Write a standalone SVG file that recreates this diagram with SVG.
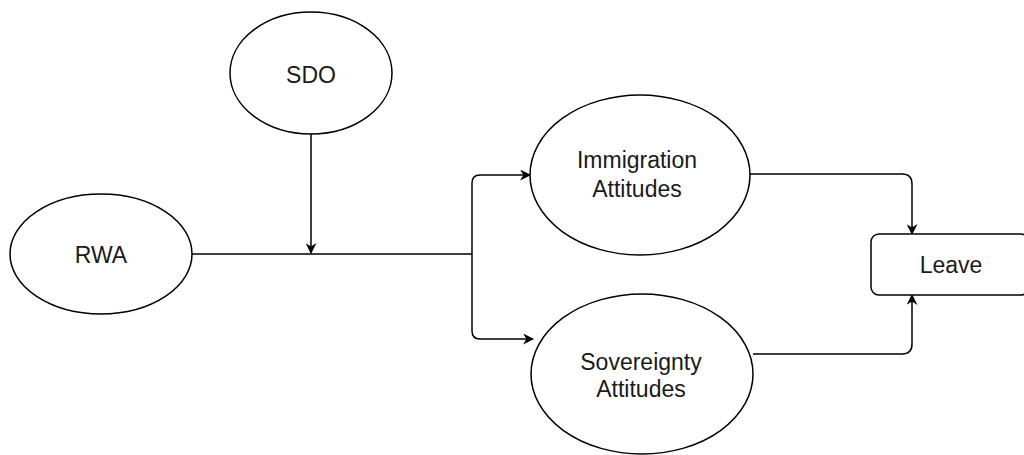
<svg xmlns="http://www.w3.org/2000/svg" width="1024" height="455" viewBox="0 0 1024 455">
<defs>
<style>
.node{fill:#fff;stroke:#000;stroke-width:1.5}
.lbl{font-family:"Liberation Sans",Arial,sans-serif;font-size:23px;fill:#1a1a1a;text-anchor:middle}
.edge{fill:none;stroke:#000;stroke-width:1.5}
</style>
<marker id="arr" viewBox="0 0 10 10" refX="9" refY="5" markerWidth="12" markerHeight="11" markerUnits="userSpaceOnUse" orient="auto">
<path d="M0,0 L10,5 L0,10 L3,5 Z" fill="#000"/>
</marker>
</defs>
<rect width="1024" height="455" fill="#fff"/>
<g id="connectors">
<path class="edge" d="M311,134 L311,253" marker-end="url(#arr)"/>
<path class="edge" d="M192,254 L472,254"/>
<path class="edge" d="M472,254 L472,183 Q472,175 480,175 L530,175" marker-end="url(#arr)"/>
<path class="edge" d="M472,254 L472,331 Q472,339 480,339 L533,339" marker-end="url(#arr)"/>
<path class="edge" d="M750,174 L902,174 Q912,174 912,184 L912,234" marker-end="url(#arr)"/>
<path class="edge" d="M753,354 L902,354 Q912,354 912,344 L912,295" marker-end="url(#arr)"/>
</g>
<g id="SDO">
<ellipse class="node" cx="311" cy="73" rx="81" ry="61"/>
<text class="lbl" x="311" y="83">SDO</text>
</g>
<g id="RWA">
<ellipse class="node" cx="101" cy="254" rx="91" ry="60"/>
<text class="lbl" x="101" y="263">RWA</text>
</g>
<g id="Immigration">
<ellipse class="node" cx="640" cy="175" rx="110" ry="80"/>
<text class="lbl" x="637" y="168">Immigration</text>
<text class="lbl" x="637" y="197">Attitudes</text>
</g>
<g id="Sovereignty">
<ellipse class="node" cx="642" cy="374" rx="111" ry="80"/>
<text class="lbl" x="641" y="370">Sovereignty</text>
<text class="lbl" x="641" y="397">Attitudes</text>
</g>
<g id="Leave">
<rect class="node" x="871" y="234" width="158" height="61" rx="8"/>
<text class="lbl" x="951" y="273">Leave</text>
</g>
</svg>
